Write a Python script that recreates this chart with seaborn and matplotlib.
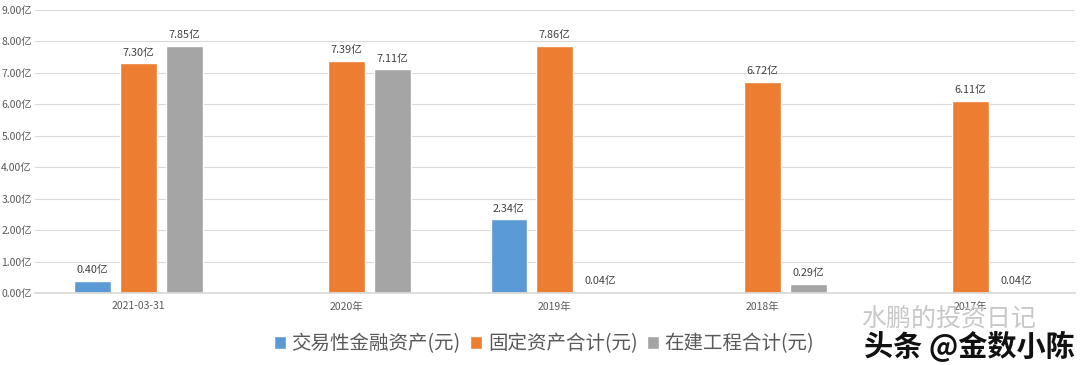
import numpy as np
import pandas as pd
import matplotlib
matplotlib.use("Agg")
import matplotlib.pyplot as plt
import seaborn as sns

categories = ["2021-03-31", "2020年", "2019年", "2018年", "2017年"]
series_names = ["交易性金融资产(元)", "固定资产合计(元)", "在建工程合计(元)"]
trading_assets = [0.40, np.nan, 2.34, np.nan, np.nan]
fixed_assets = [7.30, 7.39, 7.86, 6.72, 6.11]
construction = [7.85, 7.11, 0.04, 0.29, 0.04]
y_ticks = [0, 1, 2, 3, 4, 5, 6, 7, 8, 9]
colors = ["#5B9BD5", "#ED7D31", "#A5A5A5"]

rows = []
for name, vals in zip(series_names, [trading_assets, fixed_assets, construction]):
    for c, v in zip(categories, vals):
        rows.append({"cat": c, "series": name, "value": v})
df = pd.DataFrame(rows)

sns.set_theme(style="white")
plt.rcParams["font.family"] = ["Noto Sans CJK SC", "DejaVu Sans"]

fig = plt.figure(figsize=(10.8, 3.65), dpi=100)
ax = fig.add_axes([0.032, 0.197, 0.963, 0.776])

sns.barplot(data=df, x="cat", y="value", hue="series", palette=colors,
            order=categories, hue_order=series_names, width=0.66, gap=0.2,
            saturation=1, ax=ax, legend=True, errorbar=None)

ax.set_ylim(0, 9)
ax.set_xlim(-0.5, len(categories) - 0.5)
ax.set_yticks(y_ticks)
ax.set_yticklabels([f"{t:.2f}亿" for t in y_ticks], fontsize=7.5, color="#595959")
ax.tick_params(axis="x", labelsize=7.5, colors="#595959", length=0, pad=6)
ax.tick_params(axis="y", length=0, pad=2)
ax.grid(axis="y", color="#D9D9D9", linewidth=0.8)
ax.set_axisbelow(True)
for s in ["top", "right", "left"]:
    ax.spines[s].set_visible(False)
ax.spines["bottom"].set_color("#D9D9D9")
ax.set_xlabel("")
ax.set_ylabel("")

for cont in ax.containers:
    labels = ["" if np.isnan(v) else f"{v:.2f}亿" for v in cont.datavalues]
    ax.bar_label(cont, labels=labels, fontsize=7.8, color="#404040", padding=4)

leg = ax.legend(loc="upper center", bbox_to_anchor=(0.49, -0.08), ncol=3,
                frameon=False, fontsize=14, handlelength=0.6, handleheight=0.6,
                handletextpad=0.3, columnspacing=0.5)
for t in leg.get_texts():
    t.set_color("#595959")

fig.text(0.797, 0.128, "水鹏的投资日记", fontsize=18, color="#C8C8C8", ha="left", va="center")
fig.text(0.800, 0.052, "头条 @金数小陈", fontsize=21, color="#111111", ha="left", va="center",
         fontweight="bold")

fig.savefig("out.png", dpi=100)
